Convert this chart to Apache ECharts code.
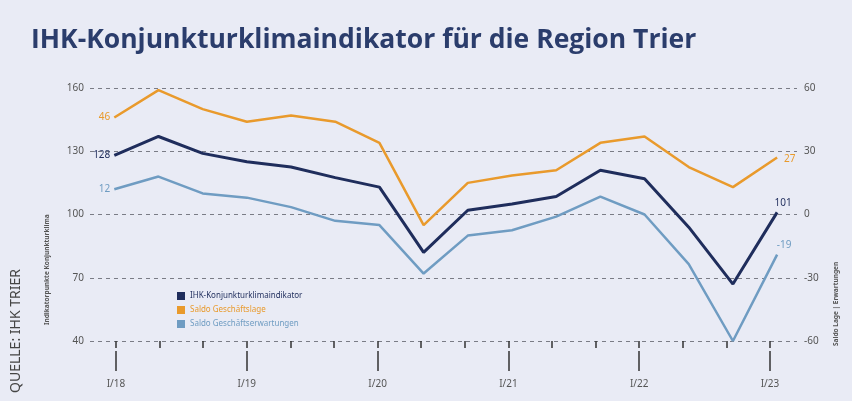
<!DOCTYPE html>
<html>
<head>
<meta charset="utf-8">
<script src="https://cdn.jsdelivr.net/npm/echarts@6/dist/echarts.min.js"></script>
<style>
  html, body { margin: 0; padding: 0; background: #e9ebf5; }
  #chart { width: 852px; height: 401px; }
</style>
</head>
<body>
<div id="chart"></div>
<script>
// Umfragezeitpunkte (3 pro Jahr)
var categories = ['I/18', 'II/18', 'III/18', 'I/19', 'II/19', 'III/19', 'I/20', 'II/20', 'III/20',
    'I/21', 'II/21', 'III/21', 'I/22', 'II/22', 'III/22', 'I/23'];

// Indikatorpunkte (linke Achse)
var klimaIndikator = [128, 137, 129, 125, 122.5, 117.5, 113, 82, 102, 105, 108.5, 121, 117, 94, 67, 101];
// Salden (rechte Achse)
var saldoLage = [46, 59, 50, 44, 47, 44, 34, -5, 15, 18.5, 21, 34, 37, 22.5, 13, 27];
var saldoErwartungen = [12, 18, 10, 8, 3.5, -3, -5, -28, -10, -7.5, -1, 8.5, 0, -23.5, -60, -19];

var leftTicks = [40, 70, 100, 130, 160];
var rightTicks = [-60, -30, 0, 30, 60];

var colNavy = '#1f2d5c';
var colOrange = '#e99a2c';
var colLight = '#6f9cc2';

var chart = echarts.init(document.getElementById('chart'));

// erster und letzter Punkt bekommen eine Beschriftung
function withEndLabels(values, color, firstPos, lastPos, lastOffset) {
    return values.map(function (v, i) {
        var item = { value: [i, v] };
        if (i === 0) {
            item.label = { show: true, position: firstPos, color: color };
        } else if (i === values.length - 1) {
            item.label = { show: true, position: lastPos, color: color, offset: lastOffset };
        }
        return item;
    });
}

var labelBase = { show: false, fontSize: 10, fontFamily: 'Noto Sans', distance: 4,
    formatter: function (p) { return p.value[1]; } };

var option = {
    backgroundColor: '#e9ebf5',
    animation: false,
    title: {
        text: 'IHK-Konjunkturklimaindikator für die Region Trier',
        left: 26, top: 22,
        textStyle: { fontFamily: 'Open Sans', fontWeight: 'bold', fontSize: 26.5, color: '#2b3d6c' }
    },
    legend: {
        orient: 'vertical', left: 172, top: 287, itemGap: 6,
        itemWidth: 8, itemHeight: 8, icon: 'rect',
        data: [
            { name: 'IHK-Konjunkturklimaindikator', textStyle: { color: colNavy } },
            { name: 'Saldo Geschäftslage', textStyle: { color: colOrange } },
            { name: 'Saldo Geschäftserwartungen', textStyle: { color: colLight } }
        ],
        textStyle: { fontSize: 8, fontFamily: 'Noto Sans' }
    },
    grid: [
        { left: 90, right: 55, top: 88, bottom: 60 },
        { left: 116, right: 82, top: 88, bottom: 60 }
    ],
    xAxis: [
        {
            type: 'value', gridIndex: 0, min: -0.55, max: 15.45,
            show: false
        },
        {
            type: 'category', gridIndex: 1, data: categories, boundaryGap: false,
            position: 'bottom', offset: 11,
            axisLine: { show: false },
            axisTick: { show: true, length: 7, lineStyle: { color: '#333', width: 1.5 } },
            axisLabel: { show: false },
            splitLine: { show: false }
        },
        {
            type: 'category', gridIndex: 1, data: categories, boundaryGap: false,
            position: 'bottom', offset: 10,
            axisLine: { show: false },
            axisTick: {
                show: true, length: 20, lineStyle: { color: '#333', width: 1.5 },
                interval: function (i) { return i % 3 === 0; }
            },
            axisLabel: {
                show: true, margin: 28, fontSize: 10, color: '#555', fontFamily: 'Noto Sans',
                interval: function (i) { return i % 3 === 0; }
            },
            splitLine: { show: false }
        }
    ],
    yAxis: [
        {
            type: 'value', gridIndex: 0, min: 40, max: 160, interval: 30,
            axisLine: { show: false }, axisTick: { show: false },
            axisLabel: { margin: 6, fontSize: 10, color: '#555', fontFamily: 'Noto Sans',
                customValues: leftTicks },
            splitLine: { show: true, lineStyle: { color: '#7a7c86', type: [4, 4], width: 1 } }
        },
        {
            type: 'value', gridIndex: 0, min: -60, max: 60, interval: 30,
            axisLine: { show: false }, axisTick: { show: false },
            axisLabel: { margin: 7, fontSize: 10, color: '#555', fontFamily: 'Noto Sans',
                customValues: rightTicks },
            splitLine: { show: false }
        },
        { type: 'value', gridIndex: 1, show: false, min: 0, max: 1 }
    ],
    graphic: [
        {
            type: 'text', x: 23, y: 393, rotation: Math.PI / 2,
            style: { text: 'QUELLE: IHK TRIER', fontSize: 14, fontFamily: 'Noto Sans', fill: '#444',
                textAlign: 'left', textVerticalAlign: 'bottom' }
        },
        {
            type: 'text', x: 51, y: 325, rotation: Math.PI / 2,
            style: { text: 'Indikatorpunkte Konjunkturklima', fontSize: 6.5, fontFamily: 'Noto Sans',
                fontWeight: 'bold', fill: '#555', textAlign: 'left', textVerticalAlign: 'bottom' }
        },
        {
            type: 'text', x: 840, y: 346, rotation: Math.PI / 2,
            style: { text: 'Saldo Lage | Erwartungen', fontSize: 6.5, fontFamily: 'Noto Sans',
                fontWeight: 'bold', fill: '#555', textAlign: 'left', textVerticalAlign: 'bottom' }
        }
    ],
    series: [
        {
            name: 'IHK-Konjunkturklimaindikator', type: 'line', xAxisIndex: 0, yAxisIndex: 0,
            data: withEndLabels(klimaIndikator, colNavy, 'left', 'top', [6, 0]),
            symbol: 'circle', symbolSize: 0, showSymbol: true,
            lineStyle: { color: colNavy, width: 3 }, itemStyle: { color: colNavy },
            label: labelBase, z: 5
        },
        {
            name: 'Saldo Geschäftslage', type: 'line', xAxisIndex: 0, yAxisIndex: 1,
            data: withEndLabels(saldoLage, colOrange, 'left', 'right', [3, 2]),
            symbol: 'circle', symbolSize: 0, showSymbol: true,
            lineStyle: { color: colOrange, width: 2.5 }, itemStyle: { color: colOrange },
            label: labelBase, z: 4
        },
        {
            name: 'Saldo Geschäftserwartungen', type: 'line', xAxisIndex: 0, yAxisIndex: 1,
            data: withEndLabels(saldoErwartungen, colLight, 'left', 'top', [7, 0]),
            symbol: 'circle', symbolSize: 0, showSymbol: true,
            lineStyle: { color: colLight, width: 2.5 }, itemStyle: { color: colLight },
            label: labelBase, z: 3
        }
    ]
};

chart.setOption(option);
</script>
</body>
</html>
